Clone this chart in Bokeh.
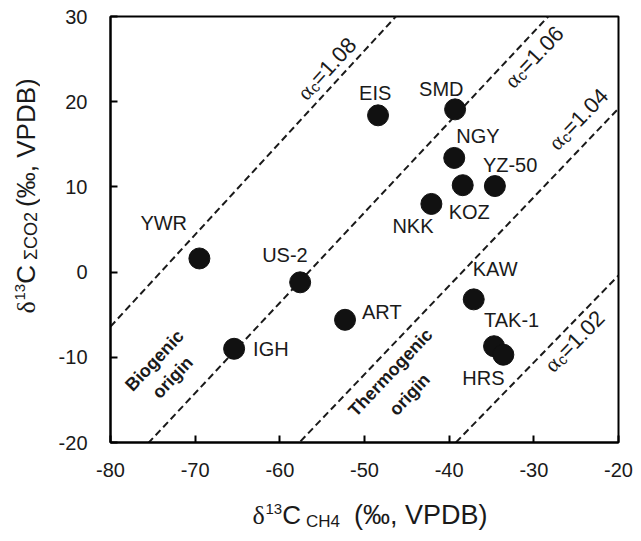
import math
import numpy as np
from bokeh.plotting import figure
from bokeh.layouts import row, column
from bokeh.models import Label, Range1d, FixedTicker
from bokeh.embed import file_html
from bokeh.resources import INLINE

# ---------------- data ----------------
sites = ["YWR", "US-2", "IGH", "ART", "EIS", "SMD", "NGY", "KOZ", "YZ-50", "NKK", "KAW", "TAK-1", "HRS"]
d13c_ch4 = [-69.5, -57.6, -65.4, -52.3, -48.4, -39.3, -39.4, -38.4, -34.6, -42.1, -37.1, -34.7, -33.6]
d13c_co2 = [1.6, -1.2, -9.0, -5.6, 18.4, 19.1, 13.4, 10.2, 10.1, 8.0, -3.2, -8.7, -9.7]
alpha_c = [1.08, 1.06, 1.04, 1.02]
alpha_text = ["=1.08", "=1.06", "=1.04", "=1.02"]
x_ticks = [-80, -70, -60, -50, -40, -30, -20]
y_ticks = [-20, -10, 0, 10, 20, 30]
x_title = ["\u03b4", "13", "C", "CH4", "(\u2030, VPDB)"]
y_title = ["\u03b4", "13", "C", "\u03a3CO2", "(\u2030, VPDB)"]

# label offsets in pixels (left edge / vertical centre relative to the point, y down)
lab_dx = [-59, -38, 19, 17, -19, -36, 2, -14, -12, -39, -1, -10, -41]
lab_dy = [-35, -27, 0, -8, -22, -20, -22, 27, -21, 22, -30, -26, 23]

# ---------------- geometry (page pixels) ----------------
W, H = 641, 541
YW = 40            # width of the strip holding the y title
XH = 50            # height of the strip holding the x title
X0, X1, Y0, Y1 = -80, -20, -20, 30
FW, FH = 508, 426
LEFT, TOP = 110, 16
SX = FW / (X1 - X0)
SY = FH / (Y1 - Y0)

def X(px):
    return X0 + (px - LEFT) / SX

def Y(py):
    return Y1 - (py - TOP) / SY

SERIF = "Liberation Serif"
SANS = "Liberation Sans"
INK = "#1a1a1a"

p = figure(width=W - YW, height=H - XH,
           x_range=Range1d(X0, X1), y_range=Range1d(Y0, Y1),
           output_backend="svg", toolbar_location=None,
           min_border_left=LEFT - YW, min_border_right=W - LEFT - FW,
           min_border_top=TOP, min_border_bottom=H - XH - TOP - FH,
           background_fill_color="white", border_fill_color="white")
p.frame_align = False
p.xgrid.visible = False
p.ygrid.visible = False
p.outline_line_color = "black"
p.outline_line_width = 2

for ax, ticks in ((p.xaxis, x_ticks), (p.yaxis, y_ticks)):
    ax.ticker = FixedTicker(ticks=ticks)
    ax.major_label_overrides = {t: str(t) for t in ticks}
    ax.axis_line_width = 2
    ax.axis_line_color = "black"
    ax.major_tick_in = 7
    ax.major_tick_out = 0
    ax.major_tick_line_width = 2
    ax.major_tick_line_color = "black"
    ax.minor_tick_line_color = None
    ax.major_label_text_font = SANS
    ax.major_label_text_font_size = "20px"
    ax.major_label_text_color = INK
p.xaxis.major_label_standoff = 20
p.yaxis.major_label_standoff = 23

# ---------------- alpha lines ----------------
xs_line = np.array([X0, X1], dtype=float)
for a in alpha_c:
    ys_line = a * (xs_line + 1000.0) - 1000.0
    p.line(xs_line, ys_line, line_color=INK, line_width=2, line_dash="7 4")

# ---------------- points ----------------
p.scatter(d13c_ch4, d13c_co2, size=21, marker="circle",
          fill_color="#111111", line_color="#111111")

for name, xv, yv, dx, dy in zip(sites, d13c_ch4, d13c_co2, lab_dx, lab_dy):
    p.add_layout(Label(x=xv + dx / SX, y=yv - dy / SY, text=name,
                       text_font=SANS, text_font_size="20px",
                       text_color=INK, text_align="left",
                       text_baseline="middle"))

# ---------------- composite text helper ----------------
W_SANS = {**{d: 0.556 for d in "0123456789"}, ".": 0.278, "=": 0.584, " ": 0.278,
          "(": 0.333, ")": 0.333, ",": 0.278, "\u2030": 1.0, "V": 0.667, "P": 0.667,
          "D": 0.722, "B": 0.667, "C": 0.722, "H": 0.722, "O": 0.778, "c": 0.5,
          "\u03a3": 0.62, "-": 0.333}
W_SERIF = {"\u03b4": 0.5, "\u03b1": 0.55}

def text_w(t, font, size):
    table = W_SERIF if "Serif" in font else W_SANS
    return sum(table.get(ch, 0.6) for ch in t) * size

def place(fig, fx, fy, pieces, sx0, sy0, ang_deg, corr, color=INK):
    """pieces: (gap_before_px, text, font, size, baseline_shift_px)"""
    th = math.radians(ang_deg)
    ux, uy = math.cos(th), -math.sin(th)
    vx, vy = -math.sin(th), -math.cos(th)
    adv = 0.0
    for gap, text, font, size, shift in pieces:
        adv += gap
        s = shift + corr * size
        px = sx0 + adv * ux + s * vx
        py = sy0 + adv * uy + s * vy
        fig.add_layout(Label(x=fx(px), y=fy(py), text=text, text_font=font,
                             text_font_size=f"{size}px", text_color=color,
                             angle=th, text_align="left", text_baseline="alphabetic"))
        adv += text_w(text, font, size)

# alpha labels
alpha_start = [(302, 97), (509, 85), (553, 147), (549, 369)]
for a, t, (sx0, sy0) in zip(alpha_c, alpha_text, alpha_start):
    ang = math.degrees(math.atan(a * SY / SX))
    place(p, X, Y, [(0, "\u03b1", SERIF, 22, 0), (0, "c", SANS, 15, -3), (0, t, SANS, 22, 0)],
          sx0, sy0, ang, 0.08)

# region labels
ang_r = math.radians(math.degrees(math.atan(1.05 * SY / SX)))
for text, (cx, cy) in (("Biogenic", (154, 360)), ("origin", (172, 377)),
                       ("Thermogenic", (390, 372)), ("origin", (409, 394))):
    p.add_layout(Label(x=X(cx), y=Y(cy), text=text, text_font=SANS,
                       text_font_size="18px", text_font_style="bold",
                       text_color=INK, angle=ang_r,
                       text_align="center", text_baseline="middle"))

# ---------------- title strips (x = page x, y = -page y) ----------------
def strip(w, h, x0, y0):
    f = figure(width=w, height=h, x_range=Range1d(x0, x0 + w), y_range=Range1d(-(y0 + h), -y0),
               output_backend="svg", toolbar_location=None,
               x_axis_location=None, y_axis_location=None,
               min_border=0, min_border_left=0, min_border_right=0,
               min_border_top=0, min_border_bottom=0,
               background_fill_color="white", border_fill_color="white")
    f.frame_align = False
    f.grid.visible = False
    f.outline_line_color = None
    return f

ystrip = strip(YW, H, 0, 0)
xstrip = strip(W - YW, XH, YW, H - XH)
ident = lambda v: v
neg = lambda v: -v

xfmt = [(0, SERIF, 26, 0), (0, SANS, 15, 9), (0, SANS, 26, 0), (5, SANS, 17, -4), (14, SANS, 27, 0)]
yfmt = [(0, SERIF, 26, 0), (0, SANS, 15, 9), (0, SANS, 26, 0), (5, SANS, 18, -3), (5, SANS, 26, 0)]
place(xstrip, ident, neg, [(g, t, f, s, sh) for t, (g, f, s, sh) in zip(x_title, xfmt)],
      252, 522, 0, 0.28)
place(ystrip, ident, neg, [(g, t, f, s, sh) for t, (g, f, s, sh) in zip(y_title, yfmt)],
      33, 313, 90, 0.28)

layout = row(ystrip, column(p, xstrip, spacing=0), spacing=0)
open("out.html", "w").write(file_html(layout, INLINE))
